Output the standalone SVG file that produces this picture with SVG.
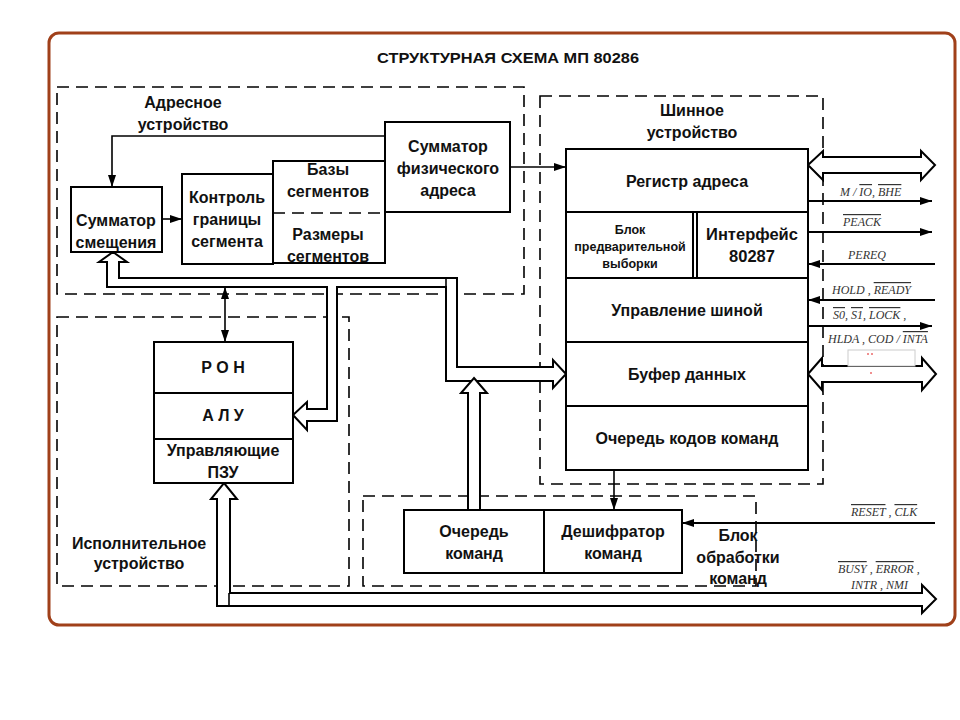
<svg xmlns="http://www.w3.org/2000/svg" width="960" height="720" viewBox="0 0 960 720">
<defs>
<marker id="ah" viewBox="0 0 12 8" refX="12" refY="4" markerWidth="12" markerHeight="8" markerUnits="userSpaceOnUse" orient="auto-start-reverse"><path d="M0,0 L12,4 L0,8 Z" fill="#000"/></marker>
<style>
.t{font-family:"Liberation Sans",Arial,sans-serif;font-weight:bold;font-size:16px;fill:#111;text-anchor:middle}
.s{font-family:"Liberation Serif","Times New Roman",serif;font-style:italic;font-size:12px;fill:#333}
.o{text-decoration:overline}
.box{fill:#fff;stroke:#000;stroke-width:2}
.dash{fill:none;stroke:#000;stroke-width:1.6;stroke-dasharray:12 7}
.ln{fill:none;stroke:#000;stroke-width:1.6}
.sig{fill:none;stroke:#000;stroke-width:2}
.bus{fill:#fff;stroke:#000;stroke-width:2;stroke-linejoin:miter}
</style>
</defs>
<rect width="960" height="720" fill="#fff"/>
<rect x="49" y="33" width="906" height="592" rx="10" fill="#fff" stroke="#A0401A" stroke-width="3"/>
<text class="t" x="508" y="63" style="font-size:15px" textLength="262" lengthAdjust="spacingAndGlyphs">СТРУКТУРНАЯ СХЕМА МП 80286</text>

<g id="regions">
<rect class="dash" x="57" y="87" width="467" height="207"/>
<rect class="dash" x="540" y="96" width="283" height="388"/>
<rect class="dash" x="57" y="317" width="292" height="269"/>
<rect class="dash" x="363" y="496" width="393" height="90"/>
<text class="t" x="183" y="108">Адресное</text>
<text class="t" x="183" y="130">устройство</text>
<text class="t" x="692" y="116">Шинное</text>
<text class="t" x="692" y="138">устройство</text>
<text class="t" x="139" y="549">Исполнительное</text>
<text class="t" x="139" y="569">устройство</text>
<text class="t" x="738" y="541">Блок</text>
<text class="t" x="738" y="563">обработки</text>
<text class="t" x="738" y="584">команд</text>
</g>

<g id="connectors">
<polyline class="ln" points="385,136 112,136 112,187" marker-end="url(#ah)"/>
<line class="ln" x1="162" y1="219" x2="182" y2="219" marker-end="url(#ah)"/>
<line class="ln" x1="510" y1="167" x2="566" y2="167" marker-end="url(#ah)"/>
<line class="ln" x1="225" y1="287" x2="225" y2="342" marker-start="url(#ah)" marker-end="url(#ah)"/>
<line class="ln" x1="614" y1="470" x2="614" y2="510" marker-end="url(#ah)"/>
<polygon class="bus" points="113,252 127,262 119,262 119,278 457,278 457,367 553,367 553,360 566,374 553,388 553,381 446,381 446,287 337,287 337,421 307,421 307,430 293,415 307,402 307,409 327,409 327,287 107,287 107,262 99,262"/>
<line class="ln" x1="446" y1="278" x2="446" y2="287"/>
<polygon class="bus" points="224,483 237,499 230,499 230,593 922,593 922,585 936,599 922,613 922,606 217,606 217,499 211,499"/>
<line class="ln" x1="229" y1="593" x2="229" y2="606"/>
<polygon class="bus" points="474,378 487,393 480,393 480,510 468,510 468,393 461,393"/>
<polygon class="bus" points="808,165 823,151 823,157 921,157 921,151 935,165 921,180 921,173 823,173 823,180"/>
<polygon class="bus" points="808,374 822,358 822,366 922,366 922,358 936,374 922,390 922,382 822,382 822,390"/>
<rect x="848" y="350" width="67" height="16" fill="#fff" stroke="#ccc" stroke-width="1"/>
<circle cx="868" cy="354" r="0.8" fill="#d00"/>
<circle cx="872" cy="354" r="0.8" fill="#d00"/>
<circle cx="871" cy="373" r="0.8" fill="#d00"/>
<line class="sig" x1="808" y1="201" x2="932" y2="201" marker-end="url(#ah)"/>
<line class="sig" x1="808" y1="232" x2="932" y2="232" marker-end="url(#ah)"/>
<line class="sig" x1="935" y1="264" x2="808" y2="264" marker-end="url(#ah)"/>
<line class="sig" x1="935" y1="300" x2="808" y2="300" marker-end="url(#ah)"/>
<line class="sig" x1="808" y1="326" x2="932" y2="326" marker-end="url(#ah)"/>
<line class="sig" x1="935" y1="523" x2="682" y2="523" marker-end="url(#ah)"/>
<text class="s" x="840" y="196">M / <tspan class="o">IO</tspan>, <tspan class="o">BHE</tspan></text>
<text class="s" x="843" y="226"><tspan class="o">PEACK</tspan></text>
<text class="s" x="848" y="259">PEREQ</text>
<text class="s" x="832" y="294">HOLD , <tspan class="o">READY</tspan></text>
<text class="s" x="833" y="319"><tspan class="o">S0</tspan>, <tspan class="o">S1</tspan>, <tspan class="o">LOCK</tspan> ,</text>
<text class="s" x="828" y="343">HLDA , COD / <tspan class="o">INTA</tspan></text>
<text class="s" x="851" y="516"><tspan class="o">RESET</tspan> , <tspan class="o">CLK</tspan></text>
<text class="s" x="838" y="573"><tspan class="o">BUSY</tspan> , <tspan class="o">ERROR</tspan> ,</text>
<text class="s" x="851" y="589">INTR , NMI</text>
</g>

<g id="summator-smeshcheniya">
<rect class="box" x="71" y="187" width="91" height="65"/>
<text class="t" x="116" y="226">Сумматор</text>
<text class="t" x="116" y="248">смещения</text>
</g>
<g id="kontrol">
<rect class="box" x="182" y="174" width="91" height="90"/>
<text class="t" x="227" y="203">Контроль</text>
<text class="t" x="227" y="225">границы</text>
<text class="t" x="227" y="247">сегмента</text>
</g>
<g id="segmenty">
<rect class="box" x="273" y="161" width="112" height="102"/>
<line class="dash" x1="273" y1="213" x2="385" y2="213"/>
<text class="t" x="328" y="175">Базы</text>
<text class="t" x="328" y="197">сегментов</text>
<text class="t" x="328" y="240">Размеры</text>
<text class="t" x="328" y="262">сегментов</text>
</g>
<g id="summator-fiz">
<rect class="box" x="385" y="122" width="125" height="90"/>
<text class="t" x="448" y="152">Сумматор</text>
<text class="t" x="448" y="174">физического</text>
<text class="t" x="448" y="196">адреса</text>
</g>
<g id="registr-adresa">
<rect class="box" x="566" y="149" width="242" height="63"/>
<text class="t" x="687" y="187">Регистр адреса</text>
</g>
<g id="blok-vyborki">
<rect class="box" x="566" y="212" width="127" height="66"/>
<line class="ln" x1="697" y1="212" x2="697" y2="278"/>
<text class="t" x="630" y="234" style="font-size:12.5px">Блок</text>
<text class="t" x="630" y="251" style="font-size:12.5px">предварительной</text>
<text class="t" x="630" y="268" style="font-size:12.5px">выборки</text>
</g>
<g id="interfeis">
<rect class="box" x="697" y="212" width="111" height="66"/>
<text class="t" x="752" y="240" style="font-size:16.5px">Интерфейс</text>
<text class="t" x="752" y="262" style="font-size:16.5px">80287</text>
</g>
<g id="upravlenie-shinoi">
<rect class="box" x="566" y="278" width="242" height="64"/>
<text class="t" x="687" y="316">Управление шиной</text>
</g>
<g id="bufer-dannyh">
<rect class="box" x="566" y="342" width="242" height="64"/>
<text class="t" x="687" y="380">Буфер данных</text>
</g>
<g id="ochered-kodov">
<rect class="box" x="566" y="406" width="242" height="64"/>
<text class="t" x="687" y="444">Очередь кодов команд</text>
</g>
<g id="ron">
<rect class="box" x="154" y="342" width="139" height="51"/>
<text class="t" x="223" y="373">Р О Н</text>
</g>
<g id="alu">
<rect class="box" x="154" y="393" width="139" height="46"/>
<text class="t" x="223" y="421">А Л У</text>
</g>
<g id="pzu">
<rect class="box" x="154" y="439" width="139" height="44"/>
<text class="t" x="223" y="456">Управляющие</text>
<text class="t" x="223" y="478">ПЗУ</text>
</g>
<g id="ochered-komand">
<rect class="box" x="404" y="510" width="140" height="63"/>
<text class="t" x="474" y="537">Очередь</text>
<text class="t" x="474" y="559">команд</text>
</g>
<g id="deshifrator">
<rect class="box" x="544" y="510" width="138" height="63"/>
<text class="t" x="613" y="537">Дешифратор</text>
<text class="t" x="613" y="559">команд</text>
</g>
</svg>
